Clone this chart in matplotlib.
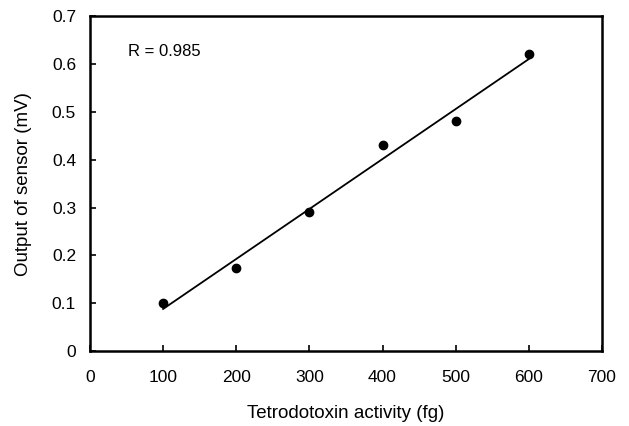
import matplotlib.pyplot as plt
import numpy as np

plt.rcParams['font.family'] = ['Liberation Sans', 'DejaVu Sans']

# tetrodotoxin activity (fg) vs sensor output (mV)
activity = [100, 200, 300, 400, 500, 600]
output = [0.101, 0.173, 0.290, 0.431, 0.480, 0.620]

xticks = [0, 100, 200, 300, 400, 500, 600, 700]
yticks = [0, 0.1, 0.2, 0.3, 0.4, 0.5, 0.6, 0.7]
ytick_labels = ['0', '0.1', '0.2', '0.3', '0.4', '0.5', '0.6', '0.7']

# linear regression line
slope, icpt = np.polyfit(activity, output, 1)
fit_x = np.array([activity[0], activity[-1]])
fit_y = slope*fit_x + icpt

fig = plt.figure(figsize=(6.29, 4.26), dpi=100)
ax = fig.add_axes([0.143, 0.176, 0.814, 0.786])

ax.plot(fit_x, fit_y, color='black', linewidth=1.3)
ax.plot(activity, output, 'o', color='black', ms=6)

ax.set_xlim(0, 700)
ax.set_ylim(0, 0.7)
ax.set_xticks(xticks)
ax.set_yticks(yticks)
ax.set_yticklabels(ytick_labels)
ax.tick_params(direction='in', length=4, width=1.2, labelsize=12.5, pad=10)
ax.tick_params(axis='x', pad=14)
for s in ax.spines.values():
    s.set_linewidth(1.8)

ax.text(52, 0.626, 'R = 0.985', fontsize=12, va='center')

ax.set_xlabel('Tetrodotoxin activity (fg)', fontsize=13.5, labelpad=14)
ax.set_ylabel('Output of sensor (mV)', fontsize=13.5, labelpad=14)

fig.savefig('out.png', dpi=100)
